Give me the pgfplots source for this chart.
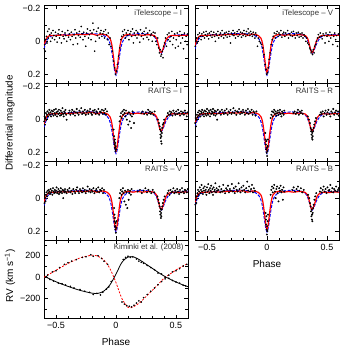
\documentclass[border=0pt]{standalone}
\usepackage{fontspec}
\setmainfont{Liberation Sans}
\usepackage{pgfplots}
\usepackage{pgfplotstable}
\pgfplotsset{compat=1.18}

% model light curves (same shape in every band)
\pgfplotstableread{
x y
-0.600 0.025
-0.590 0.002
-0.580 -0.018
-0.565 -0.030
-0.550 -0.035
-0.500 -0.036
-0.450 -0.038
-0.400 -0.037
-0.350 -0.040
-0.300 -0.042
-0.250 -0.040
-0.200 -0.045
-0.160 -0.036
-0.120 -0.044
-0.090 -0.040
-0.070 -0.034
-0.050 -0.018
-0.035 0.020
-0.020 0.100
-0.010 0.160
0.000 0.190
0.010 0.160
0.020 0.100
0.035 0.020
0.050 -0.020
0.070 -0.036
0.100 -0.042
0.140 -0.036
0.180 -0.040
0.220 -0.036
0.260 -0.040
0.300 -0.038
0.320 -0.034
0.340 -0.015
0.355 0.025
0.368 0.062
0.378 0.068
0.390 0.050
0.405 0.015
0.420 -0.015
0.440 -0.030
0.470 -0.036
0.520 -0.034
0.560 -0.037
0.600 -0.036
}\redmodel

\pgfplotstableread{
x y
-0.600 0.045
-0.590 0.020
-0.578 -0.002
-0.560 -0.022
-0.540 -0.032
-0.500 -0.037
-0.400 -0.042
-0.300 -0.046
-0.200 -0.047
-0.130 -0.042
-0.095 -0.032
-0.065 -0.012
-0.045 0.025
-0.028 0.095
-0.012 0.175
0.000 0.205
0.012 0.175
0.028 0.095
0.045 0.025
0.065 -0.012
0.095 -0.032
0.130 -0.042
0.200 -0.047
0.280 -0.043
0.310 -0.035
0.335 -0.012
0.355 0.030
0.370 0.065
0.378 0.072
0.392 0.055
0.410 0.020
0.430 -0.008
0.455 -0.028
0.490 -0.038
0.550 -0.040
0.600 -0.042
}\bluemodel

% radial velocity curves
\pgfplotstableread{
x y
-0.60 10
-0.50 -42
-0.40 -85
-0.30 -122
-0.20 -148
-0.15 -150
-0.10 -128
-0.05 -70
0.00 30
0.05 140
0.10 188
0.15 188
0.20 160
0.25 122
0.30 85
0.35 47
0.40 12
0.45 -18
0.50 -44
0.55 -68
0.60 -88
}\rvone

\pgfplotstableread{
x y
-0.60 0
-0.50 65
-0.40 128
-0.30 180
-0.20 205
-0.15 195
-0.10 160
-0.05 80
0.00 -50
0.05 -200
0.10 -280
0.12 -285
0.15 -272
0.20 -235
0.25 -180
0.30 -125
0.35 -68
0.40 -10
0.45 30
0.50 68
0.55 100
0.60 128
}\rvtwo

\pgfplotsset{
  panel/.style={scale only axis, width=144pt, height=78.4pt,
    xmin=-0.6, xmax=0.6, xtick={-0.5,0,0.5}, xticklabels={−0.5,0,0.5},
    minor xtick={-0.4,-0.3,-0.2,-0.1,0.1,0.2,0.3,0.4},
    tick align=inside, xtick pos=both, ytick pos=both,
    major tick length=4pt, minor tick length=2.5pt,
    tick style={black, line width=0.6pt},
    axis line style={line width=0.8pt},
    tick label style={font=\fontsize{9}{10}\selectfont},
    anchor=north west},
  mag/.style={panel, y dir=reverse, ymin=-0.22, ymax=0.255,
    ytick={-0.2,0,0.2}, yticklabels={−0.2,0,0.2}, minor ytick={-0.1,0.1}},
  nox/.style={xticklabels={}},
  noy/.style={yticklabels={}},
  dots/.style={only marks, mark=*, mark size=0.6pt, black},
  dense/.style={only marks, mark=*, mark size=0.75pt, black},
  redfit/.style={red, line width=1.2pt, smooth},
  bluefit/.style={blue, line width=1pt, dash pattern=on 3pt off 1.5pt, smooth},
}
\newcommand{\paneltitle}[1]{\node[anchor=north east, inner sep=0pt, text=black!80,
  font=\fontsize{7.8}{8}\selectfont] at (axis description cs:0.96,0.945) {#1};}

\begin{document}
\begin{tikzpicture}
\useasboundingbox (0,0) rectangle (342pt,-350pt);

% ---------- iTelescope I
\begin{axis}[mag, nox, at={(44pt,-5pt)}]
\addplot[dots] coordinates {(-0.598,0.045) (-0.594,0.02) (-0.590,0.06) (-0.585,-0.01) (-0.580,-0.03) (-0.575,0.01) (-0.570,-0.06) (-0.565,-0.02) (-0.558,-0.075) (-0.552,-0.04) (-0.545,0.0) (-0.540,-0.05) (-0.532,-0.02) (-0.525,-0.065) (-0.518,-0.035) (-0.512,-0.01) (-0.505,-0.055) (-0.498,-0.03) (-0.490,0.005) (-0.483,-0.045) (-0.476,-0.07) (-0.470,-0.02) (-0.462,-0.04) (-0.455,0.01) (-0.448,-0.06) (-0.440,-0.03) (-0.433,-0.015) (-0.425,-0.05) (-0.418,-0.035) (-0.410,0.0) (-0.402,-0.065) (-0.395,-0.025) (-0.388,-0.045) (-0.380,-0.01) (-0.372,-0.055) (-0.365,-0.03) (-0.357,0.02) (-0.350,-0.04) (-0.342,-0.07) (-0.335,-0.02) (-0.327,-0.05) (-0.320,0.015) (-0.312,-0.035) (-0.305,-0.06) (-0.298,-0.025) (-0.290,-0.09) (-0.283,-0.045) (-0.275,-0.01) (-0.268,-0.055) (-0.260,-0.03) (-0.252,0.03) (-0.245,-0.05) (-0.238,-0.075) (-0.230,-0.02) (-0.222,-0.04) (-0.215,-0.065) (-0.208,-0.01) (-0.200,-0.05) (-0.192,-0.11) (-0.185,-0.07) (-0.178,0.06) (-0.170,0.0) (-0.162,-0.06) (-0.155,-0.035) (-0.148,-0.08) (-0.140,-0.02) (-0.132,-0.05) (-0.125,-0.065) (-0.118,-0.03) (-0.110,-0.045) (-0.102,-0.06) (-0.095,-0.02) (-0.088,-0.07) (-0.080,-0.04) (-0.072,-0.01) (-0.065,-0.05) (-0.058,0.02) (-0.050,-0.02) (-0.042,0.03) (-0.030,0.06) (-0.020,0.12) (-0.012,0.16) (-0.004,0.2) (0.004,0.18) (0.012,0.14) (0.022,0.09) (0.032,0.04) (0.040,-0.01) (0.048,-0.03) (0.055,-0.06) (0.062,-0.04) (0.070,-0.07) (0.078,-0.02) (0.085,-0.05) (0.093,-0.035) (0.100,-0.065) (0.108,-0.01) (0.115,-0.045) (0.123,-0.06) (0.130,-0.03) (0.138,-0.075) (0.145,0.01) (0.152,-0.05) (0.160,-0.035) (0.168,-0.065) (0.175,-0.02) (0.182,-0.055) (0.190,-0.04) (0.198,0.005) (0.205,-0.07) (0.212,-0.03) (0.220,-0.05) (0.228,-0.015) (0.235,-0.06) (0.242,-0.04) (0.250,-0.08) (0.258,-0.025) (0.265,-0.05) (0.272,-0.01) (0.280,-0.065) (0.288,-0.035) (0.295,-0.045) (0.302,0.0) (0.310,-0.055) (0.318,-0.03) (0.325,-0.05) (0.332,0.0) (0.340,0.02) (0.348,-0.02) (0.355,0.04) (0.362,0.07) (0.368,0.05) (0.374,0.09) (0.380,0.08) (0.386,0.06) (0.392,0.1) (0.398,0.03) (0.405,0.01) (0.412,-0.02) (0.420,0.03) (0.428,-0.04) (0.435,-0.01) (0.442,-0.05) (0.450,0.0) (0.458,-0.03) (0.465,-0.06) (0.472,0.02) (0.480,-0.02) (0.488,-0.045) (0.495,0.04) (0.502,-0.01) (0.510,-0.05) (0.518,0.03) (0.525,-0.03) (0.532,-0.06) (0.540,0.01) (0.548,-0.04) (0.555,-0.02) (0.562,0.045) (0.570,-0.05) (0.578,0.0) (0.585,-0.03) (0.592,0.02) (0.598,-0.045)};
\addplot[bluefit] table {\bluemodel};
\addplot[redfit] table {\redmodel};
\paneltitle{iTelescope – I}
\end{axis}

% ---------- RAITS I
\begin{axis}[mag, nox, at={(44pt,-83.4pt)}]
\addplot[dense] coordinates {(-0.598,0.01) (-0.595,-0.02) (-0.592,0.03) (-0.588,-0.01) (-0.584,-0.04) (-0.580,0.0) (-0.576,-0.03) (-0.571,-0.05) (-0.566,-0.02) (-0.561,-0.04) (-0.556,-0.06) (-0.551,-0.03) (-0.546,-0.045) (-0.541,-0.02) (-0.536,-0.055) (-0.531,-0.035) (-0.526,-0.05) (-0.521,-0.025) (-0.516,-0.06) (-0.511,-0.04) (-0.506,-0.03) (-0.501,-0.065) (-0.496,-0.045) (-0.491,-0.02) (-0.486,-0.05) (-0.481,-0.035) (-0.476,-0.06) (-0.471,-0.04) (-0.466,-0.025) (-0.461,-0.055) (-0.456,-0.03) (-0.451,-0.045) (-0.446,-0.07) (-0.441,-0.035) (-0.436,-0.02) (-0.431,-0.05) (-0.426,-0.04) (-0.421,-0.06) (-0.416,-0.03) (-0.411,0.0) (-0.395,-0.04) (-0.388,-0.055) (-0.380,-0.03) (-0.372,-0.045) (-0.365,-0.06) (-0.357,-0.035) (-0.350,-0.05) (-0.342,-0.025) (-0.335,-0.045) (-0.327,-0.065) (-0.320,-0.04) (-0.312,-0.03) (-0.305,-0.055) (-0.297,-0.045) (-0.290,-0.07) (-0.282,-0.035) (-0.275,-0.05) (-0.267,-0.04) (-0.260,-0.06) (-0.252,-0.03) (-0.245,-0.045) (-0.237,-0.055) (-0.230,-0.035) (-0.222,-0.05) (-0.215,-0.065) (-0.207,-0.04) (-0.200,-0.03) (-0.192,-0.055) (-0.185,-0.045) (-0.177,-0.06) (-0.170,-0.035) (-0.162,-0.05) (-0.155,-0.04) (-0.147,-0.065) (-0.140,-0.03) (-0.132,-0.05) (-0.125,-0.045) (-0.117,-0.06) (-0.110,-0.035) (-0.102,-0.055) (-0.095,-0.04) (-0.088,-0.065) (-0.082,-0.03) (-0.075,-0.05) (-0.020,0.06) (-0.016,0.1) (-0.014,0.13) (-0.012,0.15) (-0.010,0.12) (-0.008,0.17) (-0.006,0.14) (-0.004,0.19) (-0.002,0.16) (0.0,0.18) (0.030,0.01) (0.036,-0.02) (0.042,-0.04) (0.048,-0.01) (0.054,-0.05) (0.060,-0.03) (0.066,-0.06) (0.072,-0.04) (0.078,-0.02) (0.084,-0.055) (0.090,0.0) (0.096,-0.035) (0.102,0.03) (0.108,-0.045) (0.114,0.01) (0.120,-0.03) (0.126,0.05) (0.132,-0.02) (0.138,-0.05) (0.144,-0.035) (0.150,0.02) (0.210,-0.04) (0.222,-0.05) (0.235,-0.035) (0.248,-0.045) (0.260,-0.03) (0.268,-0.06) (0.275,-0.04) (0.282,-0.05) (0.290,-0.035) (0.300,-0.045) (0.312,-0.03) (0.322,-0.05) (0.350,0.0) (0.358,0.02) (0.364,0.04) (0.368,0.06) (0.370,0.09) (0.372,0.11) (0.374,0.07) (0.376,0.13) (0.378,0.1) (0.380,0.145) (0.382,0.08) (0.385,0.05) (0.390,0.03) (0.396,0.02) (0.402,0.0) (0.425,-0.02) (0.432,-0.04) (0.440,-0.03) (0.448,-0.05) (0.455,-0.035) (0.462,-0.045) (0.470,-0.025) (0.478,-0.055) (0.486,-0.04) (0.494,-0.03) (0.502,-0.05) (0.510,-0.035) (0.518,-0.06) (0.526,-0.04) (0.534,-0.025) (0.542,-0.05) (0.550,-0.035) (0.558,-0.045) (0.566,-0.03) (0.574,-0.055) (0.582,-0.04) (0.590,-0.02) (0.598,-0.045)};
\addplot[bluefit] table {\bluemodel};
\addplot[redfit] table {\redmodel};
\paneltitle{RAITS – I}
\end{axis}

% ---------- RAITS V
\begin{axis}[mag, nox, at={(44pt,-161.8pt)}]
\addplot[dense] coordinates {(-0.596,0.03) (-0.592,0.0) (-0.588,0.02) (-0.584,-0.02) (-0.580,-0.035) (-0.575,-0.01) (-0.570,-0.045) (-0.565,-0.03) (-0.560,-0.05) (-0.555,-0.04) (-0.550,-0.025) (-0.545,-0.055) (-0.540,-0.035) (-0.535,-0.045) (-0.530,-0.02) (-0.525,-0.06) (-0.520,-0.04) (-0.515,-0.03) (-0.510,-0.05) (-0.505,-0.035) (-0.500,-0.045) (-0.495,-0.065) (-0.490,-0.03) (-0.485,-0.04) (-0.480,-0.055) (-0.475,-0.025) (-0.470,-0.045) (-0.465,-0.035) (-0.460,-0.06) (-0.455,-0.04) (-0.450,-0.03) (-0.445,-0.05) (-0.440,0.0) (-0.435,-0.045) (-0.430,-0.035) (-0.425,-0.055) (-0.420,-0.04) (-0.412,-0.03) (-0.404,-0.05) (-0.396,-0.04) (-0.388,-0.06) (-0.380,-0.035) (-0.372,-0.045) (-0.364,-0.025) (-0.356,-0.055) (-0.348,-0.04) (-0.340,-0.03) (-0.332,-0.05) (-0.324,-0.065) (-0.316,-0.04) (-0.308,-0.03) (-0.300,-0.055) (-0.292,-0.045) (-0.284,-0.035) (-0.276,-0.06) (-0.268,-0.04) (-0.260,-0.05) (-0.252,-0.03) (-0.244,-0.045) (-0.236,-0.07) (-0.228,-0.04) (-0.220,-0.055) (-0.212,-0.035) (-0.204,-0.05) (-0.196,-0.04) (-0.188,-0.06) (-0.180,-0.03) (-0.172,-0.045) (-0.164,-0.055) (-0.156,-0.04) (-0.148,-0.065) (-0.140,-0.035) (-0.132,-0.05) (-0.124,-0.045) (-0.116,-0.06) (-0.108,-0.03) (-0.100,-0.05) (-0.016,0.06) (-0.013,0.1) (-0.011,0.14) (-0.009,0.12) (-0.007,0.17) (-0.005,0.19) (-0.003,0.15) (-0.001,0.21) (0.001,0.18) (0.004,0.14) (0.028,0.0) (0.034,-0.03) (0.040,-0.05) (0.046,-0.02) (0.052,-0.04) (0.058,-0.06) (0.064,-0.03) (0.070,0.02) (0.076,-0.045) (0.082,0.04) (0.088,-0.035) (0.094,0.06) (0.100,-0.05) (0.106,0.01) (0.112,-0.03) (0.118,-0.045) (0.124,-0.02) (0.130,-0.055) (0.180,-0.04) (0.200,-0.05) (0.215,-0.03) (0.230,-0.045) (0.245,-0.06) (0.258,-0.035) (0.270,-0.05) (0.282,-0.04) (0.294,-0.03) (0.306,-0.05) (0.318,-0.035) (0.345,-0.01) (0.352,0.01) (0.358,0.03) (0.363,0.05) (0.367,0.08) (0.370,0.1) (0.372,0.065) (0.374,0.12) (0.376,0.09) (0.378,0.11) (0.381,0.07) (0.385,0.05) (0.390,0.03) (0.397,0.01) (0.405,-0.01) (0.430,-0.03) (0.438,-0.045) (0.446,-0.02) (0.454,-0.05) (0.462,-0.035) (0.470,-0.04) (0.478,-0.06) (0.486,-0.03) (0.494,-0.045) (0.502,-0.035) (0.510,-0.055) (0.518,-0.04) (0.526,-0.025) (0.534,-0.05) (0.542,-0.035) (0.550,-0.06) (0.558,-0.04) (0.566,-0.03) (0.574,-0.05) (0.582,-0.045) (0.590,-0.035) (0.598,-0.055)};
\addplot[bluefit] table {\bluemodel};
\addplot[redfit] table {\redmodel};
\paneltitle{RAITS – V}
\end{axis}

% ---------- RV (Kiminki et al. 2008)
\begin{axis}[panel, at={(44pt,-240.2pt)}, ymin=-385, ymax=345,
  ytick={-200,0,200}, yticklabels={−200,0,200}, minor ytick={-300,-100,100,300}]
\addplot[dots] coordinates {(-0.58,5) (-0.55,-20) (-0.52,-35) (-0.48,-55) (-0.45,-60) (-0.42,-72) (-0.38,-85) (-0.35,-100) (-0.30,-115) (-0.26,-130) (-0.22,-140) (-0.19,-160) (-0.16,-150) (-0.13,-165) (-0.11,-140) (-0.08,-110) (-0.06,-90) (-0.04,-40) (0.06,165) (0.08,185) (0.10,195) (0.12,185) (0.14,190) (0.17,170) (0.19,150) (0.21,140) (0.23,130) (0.26,110) (0.29,90) (0.32,70) (0.35,40) (0.38,30) (0.41,0) (0.44,-10) (0.47,-30) (0.50,-45) (0.53,-55) (0.56,-75) (0.58,-80)};
\addplot[dots] coordinates {(-0.57,20) (-0.53,50) (-0.50,60) (-0.47,90) (-0.43,120) (-0.40,135) (-0.37,150) (-0.33,165) (-0.28,185) (-0.25,190) (-0.21,210) (-0.19,195) (-0.15,200) (-0.12,175) (-0.10,150) (-0.07,120) (0.05,-230) (0.07,-250) (0.09,-265) (0.11,-270) (0.13,-275) (0.15,-260) (0.17,-240) (0.19,-220) (0.21,-230) (0.23,-190) (0.26,-160) (0.29,-130) (0.32,-100) (0.35,-70) (0.38,-40) (0.41,-15) (0.44,20) (0.47,50) (0.50,60) (0.53,80) (0.56,105) (0.59,120)};
\addplot[black, line width=0.8pt, smooth] table {\rvone};
\addplot[red, line width=0.8pt, dash pattern=on 2pt off 1.5pt, smooth] table {\rvtwo};
\node[anchor=north east, inner sep=0pt, text=black!80, font=\fontsize{7.8}{8}\selectfont]
  at (axis description cs:0.97,0.955) {Kiminki et al. (2008)};
\end{axis}

% ---------- iTelescope V
\begin{axis}[mag, nox, noy, at={(195pt,-5pt)}]
\addplot[dots] coordinates {(-0.598,0.03) (-0.593,0.0) (-0.588,-0.02) (-0.582,0.01) (-0.576,-0.04) (-0.570,-0.02) (-0.563,-0.05) (-0.556,-0.03) (-0.549,-0.01) (-0.542,-0.045) (-0.535,-0.03) (-0.528,-0.055) (-0.521,-0.02) (-0.514,-0.04) (-0.507,-0.06) (-0.500,-0.03) (-0.493,-0.045) (-0.486,-0.015) (-0.479,-0.05) (-0.472,-0.035) (-0.465,-0.06) (-0.458,-0.025) (-0.451,-0.04) (-0.444,-0.055) (-0.437,-0.03) (-0.430,0.0) (-0.423,-0.045) (-0.416,-0.035) (-0.409,-0.06) (-0.402,-0.02) (-0.395,-0.04) (-0.388,-0.05) (-0.381,-0.03) (-0.374,-0.065) (-0.367,-0.04) (-0.360,-0.02) (-0.353,-0.05) (-0.346,-0.035) (-0.339,-0.055) (-0.332,-0.025) (-0.325,-0.045) (-0.318,-0.06) (-0.311,-0.03) (-0.304,0.01) (-0.297,-0.05) (-0.290,-0.04) (-0.283,-0.065) (-0.276,-0.035) (-0.269,-0.05) (-0.262,-0.02) (-0.255,-0.045) (-0.248,-0.06) (-0.241,-0.03) (-0.234,-0.07) (-0.227,-0.04) (-0.220,-0.055) (-0.213,-0.025) (-0.206,-0.05) (-0.199,-0.035) (-0.192,-0.065) (-0.185,-0.045) (-0.178,-0.03) (-0.171,-0.06) (-0.164,-0.04) (-0.157,-0.075) (-0.150,-0.05) (-0.143,-0.035) (-0.136,-0.06) (-0.129,-0.045) (-0.122,-0.03) (-0.115,-0.055) (-0.108,-0.04) (-0.101,-0.02) (-0.094,-0.05) (-0.087,-0.035) (-0.080,0.03) (-0.072,-0.02) (-0.064,0.0) (-0.055,0.01) (-0.045,0.02) (-0.035,0.04) (-0.025,0.08) (-0.015,0.14) (-0.008,0.17) (-0.002,0.2) (0.004,0.19) (0.010,0.16) (0.018,0.11) (0.026,0.07) (0.035,0.02) (0.044,-0.01) (0.052,-0.03) (0.060,-0.05) (0.068,-0.02) (0.076,-0.045) (0.084,-0.06) (0.092,-0.03) (0.100,-0.05) (0.108,-0.04) (0.116,-0.065) (0.124,-0.025) (0.132,-0.045) (0.140,-0.055) (0.148,-0.03) (0.156,-0.05) (0.164,-0.04) (0.172,-0.065) (0.180,-0.02) (0.188,-0.045) (0.196,-0.035) (0.204,-0.055) (0.212,-0.03) (0.220,-0.06) (0.228,-0.04) (0.236,-0.02) (0.244,-0.05) (0.252,-0.035) (0.260,-0.055) (0.268,-0.025) (0.276,-0.045) (0.284,-0.03) (0.292,-0.05) (0.300,-0.02) (0.308,-0.04) (0.316,-0.03) (0.324,0.0) (0.332,-0.02) (0.340,0.01) (0.348,0.02) (0.356,0.04) (0.362,0.05) (0.368,0.07) (0.374,0.06) (0.380,0.08) (0.386,0.05) (0.392,0.07) (0.398,0.03) (0.405,0.02) (0.412,0.0) (0.420,-0.02) (0.428,-0.04) (0.436,-0.025) (0.444,-0.05) (0.452,-0.03) (0.460,-0.015) (0.468,-0.045) (0.476,-0.035) (0.484,0.01) (0.492,-0.05) (0.500,-0.03) (0.508,-0.04) (0.516,0.0) (0.524,-0.055) (0.532,-0.02) (0.540,-0.04) (0.548,0.02) (0.556,-0.03) (0.564,-0.05) (0.572,-0.01) (0.580,-0.035) (0.588,0.03) (0.596,-0.045)};
\addplot[bluefit] table {\bluemodel};
\addplot[redfit] table {\redmodel};
\paneltitle{iTelescope – V}
\end{axis}

% ---------- RAITS R
\begin{axis}[mag, nox, noy, at={(195pt,-83.4pt)}]
\addplot[dense] coordinates {(-0.598,0.02) (-0.595,-0.01) (-0.592,0.04) (-0.588,0.0) (-0.584,-0.03) (-0.580,-0.015) (-0.575,-0.045) (-0.570,-0.025) (-0.565,-0.055) (-0.560,-0.035) (-0.555,-0.02) (-0.550,-0.05) (-0.545,-0.04) (-0.540,-0.06) (-0.535,-0.03) (-0.530,-0.045) (-0.525,-0.02) (-0.520,-0.055) (-0.515,-0.035) (-0.510,-0.05) (-0.505,-0.025) (-0.500,-0.065) (-0.495,-0.04) (-0.490,-0.03) (-0.485,-0.055) (-0.480,-0.045) (-0.475,-0.02) (-0.470,-0.06) (-0.465,-0.035) (-0.460,-0.05) (-0.455,-0.04) (-0.450,-0.065) (-0.445,-0.03) (-0.440,-0.045) (-0.435,-0.055) (-0.430,-0.025) (-0.425,-0.05) (-0.420,-0.035) (-0.415,0.0) (-0.410,-0.06) (-0.400,-0.04) (-0.392,-0.05) (-0.384,-0.03) (-0.376,-0.06) (-0.368,-0.045) (-0.360,-0.035) (-0.352,-0.055) (-0.344,-0.04) (-0.336,-0.065) (-0.328,-0.03) (-0.320,-0.05) (-0.312,-0.04) (-0.304,-0.06) (-0.296,-0.035) (-0.288,-0.045) (-0.280,-0.07) (-0.272,-0.04) (-0.264,-0.055) (-0.256,-0.03) (-0.248,-0.05) (-0.240,-0.045) (-0.232,-0.065) (-0.224,-0.035) (-0.216,-0.05) (-0.208,-0.04) (-0.200,-0.06) (-0.192,-0.045) (-0.184,-0.03) (-0.176,-0.055) (-0.168,-0.04) (-0.160,-0.065) (-0.152,-0.035) (-0.144,-0.05) (-0.136,-0.045) (-0.128,-0.06) (-0.120,-0.03) (-0.112,-0.05) (-0.104,-0.04) (-0.096,-0.025) (-0.088,-0.05) (-0.014,0.08) (-0.011,0.12) (-0.009,0.15) (-0.007,0.18) (-0.005,0.13) (-0.003,0.2) (-0.001,0.17) (0.001,0.22) (0.003,0.19) (0.005,0.16) (0.008,0.12) (0.030,-0.01) (0.036,-0.03) (0.042,-0.05) (0.048,-0.02) (0.054,-0.045) (0.060,-0.06) (0.066,-0.035) (0.072,-0.05) (0.078,-0.025) (0.084,-0.04) (0.090,-0.055) (0.096,-0.03) (0.102,-0.045) (0.108,-0.06) (0.114,-0.035) (0.120,-0.02) (0.126,-0.05) (0.132,-0.04) (0.138,-0.03) (0.144,-0.055) (0.220,-0.04) (0.230,-0.05) (0.240,-0.035) (0.250,-0.045) (0.258,-0.06) (0.266,-0.03) (0.274,-0.05) (0.282,-0.04) (0.290,-0.055) (0.298,-0.035) (0.340,-0.02) (0.350,0.0) (0.358,0.02) (0.364,0.05) (0.368,0.07) (0.371,0.09) (0.373,0.06) (0.375,0.11) (0.377,0.08) (0.379,0.12) (0.381,0.1) (0.384,0.07) (0.388,0.05) (0.394,0.03) (0.400,0.01) (0.408,-0.01) (0.440,-0.03) (0.448,-0.045) (0.456,-0.035) (0.464,-0.05) (0.472,-0.02) (0.480,-0.04) (0.488,-0.055) (0.496,-0.03) (0.504,-0.045) (0.512,-0.06) (0.520,-0.035) (0.528,-0.02) (0.536,-0.05) (0.544,-0.04) (0.552,-0.065) (0.560,-0.03) (0.568,-0.045) (0.576,-0.055) (0.584,-0.035) (0.592,-0.05) (0.598,-0.025)};
\addplot[bluefit] table {\bluemodel};
\addplot[redfit] table {\redmodel};
\paneltitle{RAITS – R}
\end{axis}

% ---------- RAITS B
\begin{axis}[mag, noy, at={(195pt,-161.8pt)}]
\addplot[dense] coordinates {(-0.597,0.04) (-0.593,0.01) (-0.589,0.03) (-0.585,-0.01) (-0.580,-0.03) (-0.575,-0.05) (-0.570,-0.02) (-0.565,-0.04) (-0.560,-0.065) (-0.555,-0.03) (-0.550,-0.05) (-0.545,-0.08) (-0.540,-0.04) (-0.535,-0.025) (-0.530,-0.06) (-0.525,-0.045) (-0.520,-0.07) (-0.515,-0.035) (-0.510,-0.05) (-0.505,-0.02) (-0.500,-0.065) (-0.495,-0.04) (-0.490,-0.085) (-0.485,-0.05) (-0.480,-0.03) (-0.475,-0.06) (-0.470,-0.045) (-0.465,-0.075) (-0.460,-0.035) (-0.455,-0.055) (-0.450,-0.02) (-0.445,-0.065) (-0.440,-0.04) (-0.435,-0.05) (-0.430,-0.09) (-0.425,-0.035) (-0.420,-0.06) (-0.415,-0.045) (-0.405,-0.05) (-0.397,-0.07) (-0.389,-0.035) (-0.381,-0.055) (-0.373,-0.04) (-0.365,-0.08) (-0.357,-0.045) (-0.349,-0.03) (-0.341,-0.06) (-0.333,-0.05) (-0.325,-0.075) (-0.317,-0.035) (-0.309,-0.055) (-0.301,-0.045) (-0.293,-0.085) (-0.285,-0.04) (-0.277,-0.06) (-0.269,-0.03) (-0.261,-0.07) (-0.253,-0.05) (-0.245,-0.04) (-0.237,-0.09) (-0.229,-0.055) (-0.221,-0.035) (-0.213,-0.065) (-0.205,-0.045) (-0.197,-0.075) (-0.189,-0.05) (-0.181,-0.035) (-0.173,-0.06) (-0.165,-0.1) (-0.157,-0.045) (-0.149,-0.07) (-0.141,-0.04) (-0.133,-0.055) (-0.125,-0.08) (-0.117,-0.035) (-0.109,-0.06) (-0.101,-0.045) (-0.012,0.09) (-0.009,0.13) (-0.007,0.16) (-0.005,0.11) (-0.003,0.19) (-0.001,0.22) (0.001,0.17) (0.003,0.2) (0.005,0.14) (0.008,0.1) (0.030,-0.02) (0.036,-0.05) (0.042,-0.07) (0.048,-0.035) (0.054,-0.06) (0.060,-0.08) (0.066,-0.04) (0.072,0.0) (0.078,-0.055) (0.084,-0.07) (0.090,-0.03) (0.096,0.02) (0.102,-0.06) (0.108,-0.045) (0.114,-0.075) (0.120,-0.035) (0.126,-0.05) (0.132,0.01) (0.138,-0.065) (0.144,-0.04) (0.210,-0.05) (0.222,-0.065) (0.234,-0.04) (0.246,-0.055) (0.258,-0.07) (0.270,-0.045) (0.282,-0.06) (0.294,-0.035) (0.306,-0.05) (0.342,-0.02) (0.352,0.0) (0.358,0.03) (0.363,0.05) (0.367,0.08) (0.370,0.11) (0.372,0.07) (0.374,0.13) (0.376,0.1) (0.378,0.14) (0.381,0.09) (0.384,0.06) (0.389,0.04) (0.395,0.01) (0.402,-0.01) (0.410,-0.03) (0.440,-0.04) (0.448,-0.06) (0.456,-0.035) (0.464,-0.05) (0.472,-0.07) (0.480,-0.04) (0.488,-0.055) (0.496,-0.03) (0.504,-0.065) (0.512,-0.045) (0.520,-0.05) (0.528,-0.08) (0.536,-0.04) (0.544,-0.06) (0.552,-0.035) (0.560,-0.055) (0.568,-0.045) (0.576,-0.07) (0.584,-0.04) (0.592,-0.05) (0.598,-0.06)};
\addplot[bluefit] table {\bluemodel};
\addplot[redfit] table {\redmodel};
\paneltitle{RAITS – B}
\end{axis}

% axis labels
\node[rotate=90, font=\fontsize{9.8}{10}\selectfont] at (10pt,-123pt) {Differential magnitude};
\node[rotate=90, font=\fontsize{10}{11}\selectfont] at (10pt,-276pt) {RV (km s\textsuperscript{−1})};
\node[font=\fontsize{10}{11}\selectfont] at (116pt,-342pt) {Phase};
\node[font=\fontsize{10}{11}\selectfont] at (267pt,-263.5pt) {Phase};
\end{tikzpicture}
\end{document}
